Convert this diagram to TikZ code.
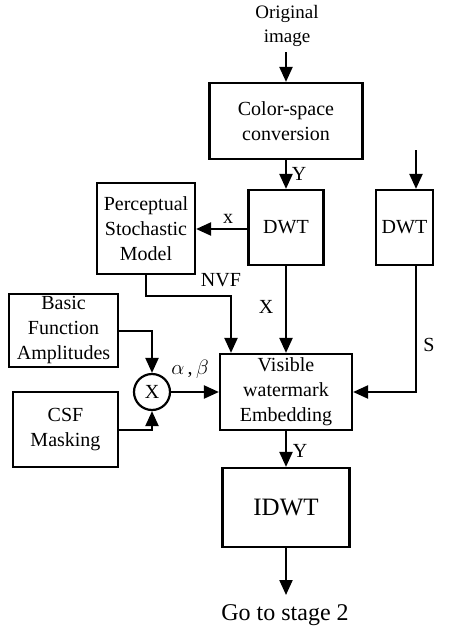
\documentclass[tikz,border=0pt]{standalone}
\usepackage{fontspec}
\setmainfont{Liberation Serif}
\usetikzlibrary{arrows.meta}
\begin{document}
\begin{tikzpicture}[x=1pt,y=-1pt,
  blk/.style={draw,line width=2.2pt,inner sep=0pt,align=center,font=\fontsize{20}{25}\selectfont},
  lbl/.style={font=\fontsize{20}{24}\selectfont,inner sep=0pt},
  conn/.style={line width=2.2pt,-{Triangle[length=15pt,width=13pt]}}]
\useasboundingbox (0,0) rectangle (454,632);
\node[lbl,align=center,font=\fontsize{19}{24}\selectfont] (orig) at (287,26) {Original\\image};
\node[blk,minimum width=153pt,minimum height=76pt] (csc) at (286,121) {Color-space\\conversion};
\node[blk,minimum width=75pt,minimum height=75pt] (dwt) at (286,227.5) {DWT};
\node[blk,minimum width=57pt,minimum height=75pt] (dwt2) at (404.5,227.5) {DWT};
\node[blk,minimum width=98pt,minimum height=91pt] (psm) at (146,228.5) {Perceptual\\Stochastic\\Model};
\node[blk,minimum width=132pt,minimum height=76pt] (vis) at (286,392) {Visible\\watermark\\Embedding};
\node[blk,minimum width=109pt,minimum height=73pt] (bfa) at (63.5,330.5) {Basic\\Function\\Amplitudes};
\node[blk,minimum width=105pt,minimum height=75pt] (csf) at (65.5,429.5) {CSF\\Masking};
\node[draw,circle,line width=2.2pt,minimum size=36pt,inner sep=0pt,font=\fontsize{20}{24}\selectfont] (mul) at (152,392) {X};
\node[blk,minimum width=127pt,minimum height=79pt,font=\fontsize{25}{28}\selectfont] (idwt) at (286,507.5) {IDWT};
\node[lbl,font=\fontsize{24}{28}\selectfont] (go) at (285,615) {Go to stage 2};
\coordinate (origin) at (286,52);
\coordinate (goin) at (286,595);
\coordinate (dwt2in) at (416,150);
\coordinate (dwtx) at (248,229);
\coordinate (nvfa) at (146,296);
\coordinate (nvfb) at (231,296);
\coordinate (sa) at (416,392);
\coordinate (bfb) at (152,331);
\coordinate (csfb) at (152,430);
% connectors
\draw[conn] (origin) -- (csc.north);
\draw[conn] (csc.south) -- (dwt.north);
\draw[conn] (dwt2in) -- (dwt2in |- dwt2.north);
\draw[conn] (dwtx) -- (dwtx -| psm.east);
\draw[conn] (psm.south -| nvfa) -- (nvfa) -- (nvfb) -- (nvfb |- vis.north);
\draw[conn] (dwt.south) -- (vis.north);
\draw[conn] (dwt2.south -| sa) -- (sa) -- (sa -| vis.east);
\draw[conn] (bfb -| bfa.east) -- (bfb) -- (mul.north);
\draw[conn] (csfb -| csf.east) -- (csfb) -- (mul.south);
\draw[conn] (mul.east) -- (mul -| vis.west);
\draw[conn] (vis.south) -- (idwt.north);
\draw[conn] (idwt.south) -- (goin);
% labels
\node[lbl] at (299,174) {Y};
\node[lbl] at (228,219) {x};
\node[lbl] at (221,280) {NVF};
\node[lbl] at (266,307) {X};
\node[lbl] at (429,345) {S};
\node[lbl] at (190,369) {$\alpha$\,,\,$\beta$};
\node[lbl] at (300,451) {Y};
\end{tikzpicture}
\end{document}
